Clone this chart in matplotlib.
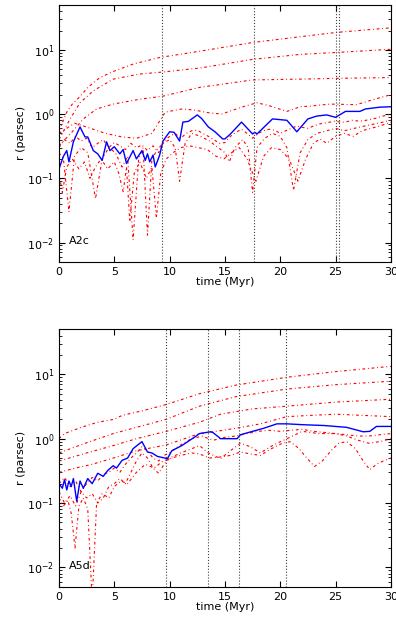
import numpy as np
import matplotlib
matplotlib.use('Agg')
import matplotlib.pyplot as plt

# ---- panel A2c ----
blue_t_a = [0, 0.4, 0.7, 0.9, 1.3, 1.9, 2.35, 2.6, 3.1, 3.5, 3.9, 4.3, 4.6, 5.0, 5.5,
            5.8, 6.1, 6.7, 7.0, 7.5, 7.8, 8.0, 8.2, 8.5, 8.7, 9.1, 9.4, 10.0, 10.4, 10.9,
            11.2, 11.7, 12.5, 12.9, 13.5, 14.1, 14.8, 15.0, 15.5, 16.5, 17.5, 17.7, 17.9, 19.3, 20.6,
            21.5, 22.5, 23.3, 24.2, 25.0, 25.9, 27.2, 27.7, 29.0, 30]
blue_r_a = [0.14, 0.22, 0.27, 0.18, 0.37, 0.63, 0.44, 0.44, 0.27, 0.24, 0.19, 0.37, 0.27, 0.31, 0.24,
            0.28, 0.17, 0.27, 0.2, 0.27, 0.19, 0.24, 0.18, 0.23, 0.15, 0.23, 0.38, 0.53, 0.52, 0.38,
            0.75, 0.77, 0.97, 0.85, 0.63, 0.53, 0.41, 0.41, 0.49, 0.75, 0.49, 0.52, 0.49, 0.84, 0.8,
            0.53, 0.84, 0.93, 0.97, 0.89, 1.1, 1.1, 1.2, 1.28, 1.3]

red_a = [
    ([0, 0.7, 1.2, 1.8, 2.6, 3.7, 4.9, 6.7, 9.1, 12.7, 17.5, 21.8, 25.1, 30],
     [0.55, 1.07, 1.43, 1.8, 2.6, 3.7, 4.6, 6.0, 7.6, 9.5, 13, 16, 18.7, 22]),
    ([0, 1.0, 1.9, 3.1, 4.9, 7.3, 9.3, 12.7, 17.5, 21.8, 25.1, 30],
     [0.4, 0.84, 1.5, 2.3, 3.5, 4.2, 4.5, 5.2, 7.1, 8.5, 9.1, 10.2]),
    ([0, 1.2, 2.2, 3.4, 4.9, 7.3, 9.4, 12.7, 17.5, 21.8, 25.1, 30],
     [0.32, 0.53, 0.84, 1.2, 1.43, 1.7, 1.9, 2.6, 3.4, 3.5, 3.6, 3.7]),
    ([0, 0.7, 1.4, 2.6, 4.2, 5.7, 7.0, 8.4, 9.1, 9.6, 11.1, 12.3, 13.5, 14.7, 16.5, 17.9,
      19.0, 20.6, 21.8, 22.7, 24.5, 26.9, 28.5, 30],
     [0.5, 0.6, 0.72, 0.62, 0.5, 0.44, 0.42, 0.5, 0.78, 1.07, 1.2, 1.15, 1.05, 1.0, 1.28, 1.5,
      1.35, 1.1, 1.3, 1.33, 1.43, 1.4, 1.7, 2.0]),
    ([0, 0.5, 1.0, 1.5, 2.0, 2.5, 3.0, 3.5, 4.0, 4.5, 5.0, 5.5, 6.0, 6.5, 7.0, 7.5, 8.0, 8.5,
      9.0, 9.5, 10.0, 10.5, 11.0, 11.5, 12.0, 12.5, 13.0, 13.5, 14.0, 14.5, 15.0, 15.5, 16.0,
      16.5, 17.0, 17.5, 18.0, 18.5, 19.0, 19.5, 20.0, 20.5, 21.0, 21.5, 22.0, 22.5, 23.0, 23.5,
      24.0, 24.5, 25.0, 25.5, 26.0, 26.5, 27.0, 27.5, 28.0, 28.5, 29.0, 29.5, 30.0],
     [0.3, 0.4, 0.35, 0.45, 0.38, 0.42, 0.3, 0.35, 0.4, 0.3, 0.36, 0.32, 0.28, 0.35, 0.3, 0.33,
      0.27, 0.32, 0.25, 0.38, 0.45, 0.5, 0.42, 0.5, 0.55, 0.56, 0.5, 0.45, 0.4, 0.35, 0.36, 0.45,
      0.52, 0.58, 0.5, 0.42, 0.5, 0.55, 0.58, 0.56, 0.5, 0.55, 0.6, 0.65, 0.62, 0.6, 0.65, 0.7,
      0.72, 0.75, 0.78, 0.74, 0.76, 0.8, 0.78, 0.78, 0.82, 0.85, 0.9, 0.95, 1.0]),
    ([0, 0.4, 0.9, 1.4, 2.0, 2.6, 3.3, 3.9, 4.5, 5.1, 5.7, 6.2, 6.7, 7.2, 7.6, 8.0, 8.4, 8.9,
      9.4, 10.0, 10.5, 10.9, 11.4, 12.0, 12.8, 13.6, 14.4, 15.0, 15.4, 15.9, 16.6, 17.1, 17.5,
      17.9, 18.6, 19.3, 20.0, 20.6, 21.2, 21.8, 22.5, 23.3, 24.2, 25.0, 25.8, 26.7, 27.6, 28.5,
      29.3, 30],
     [0.25, 0.2, 0.03, 0.22, 0.3, 0.25, 0.048, 0.2, 0.3, 0.25, 0.15, 0.22, 0.011, 0.2, 0.3,
      0.013, 0.2, 0.28, 0.35, 0.4, 0.3, 0.09, 0.35, 0.5, 0.45, 0.38, 0.3, 0.25, 0.18, 0.3, 0.4,
      0.3, 0.06, 0.3, 0.42, 0.5, 0.45, 0.3, 0.065, 0.25, 0.4, 0.5, 0.55, 0.6, 0.55, 0.6, 0.65,
      0.7, 0.75, 0.8]),
    ([0, 0.3, 0.7, 1.2, 1.8, 2.3, 2.8, 3.3, 3.8, 4.4, 5.0, 5.4, 5.8, 6.1, 6.4, 6.8, 7.3, 7.9,
      8.4, 8.8, 9.2, 9.7, 10.3, 11.0, 11.8, 12.6, 13.4, 14.2, 14.9, 15.6, 16.3, 17.0, 17.8,
      18.5, 19.2, 20.0, 20.8, 21.6, 22.3, 23.0, 23.6, 24.2, 25.0, 25.8, 26.6, 27.4, 28.2, 29.0, 30],
     [0.12, 0.06, 0.15, 0.2, 0.14, 0.18, 0.1, 0.15, 0.2, 0.14, 0.18, 0.12, 0.062, 0.15, 0.021,
      0.12, 0.18, 0.1, 0.15, 0.024, 0.12, 0.2, 0.25, 0.3, 0.32, 0.3, 0.28, 0.22, 0.2, 0.25, 0.3,
      0.2, 0.09, 0.22, 0.3, 0.28, 0.2, 0.09, 0.2, 0.35, 0.41, 0.35, 0.45, 0.5, 0.45, 0.55, 0.6,
      0.65, 0.75]),
]
vlines_a = [9.3, 17.6, 25.05, 25.35]

# ---- panel A5d ----
blue_t_b = [0, 0.3, 0.5, 0.7, 0.9, 1.1, 1.3, 1.6, 1.9, 2.2, 2.6, 3.0, 3.5, 4.0, 4.4,
            4.9, 5.2, 5.7, 6.2, 6.7, 7.5, 8.0, 8.4, 8.9, 9.8, 10.2, 11.1, 12.3, 12.7, 13.7,
            13.9, 14.4, 14.6, 16.1, 16.4, 17.5, 18.5, 19.7, 20.6, 22.0, 24.0, 26.0, 27.5, 28.1, 28.7, 30]
blue_r_b = [0.2, 0.17, 0.23, 0.16, 0.22, 0.18, 0.24, 0.107, 0.22, 0.17, 0.24, 0.2, 0.29, 0.26, 0.32,
            0.38, 0.35, 0.46, 0.5, 0.7, 0.9, 0.62, 0.6, 0.53, 0.49, 0.65, 0.78, 1.07, 1.2, 1.28,
            1.25, 1.07, 1.0, 1.0, 1.15, 1.3, 1.45, 1.7, 1.7, 1.65, 1.6, 1.5, 1.28, 1.3, 1.55, 1.55]

red_b = [
    ([0, 0.5, 2, 3.5, 5, 5.7, 7.5, 9.7, 12.7, 16, 20.6, 25, 30],
     [1.0, 1.2, 1.5, 1.8, 2.0, 2.3, 2.7, 3.4, 5.0, 6.8, 9.0, 11, 13.3]),
    ([0, 2.2, 4.9, 7, 9.7, 12.7, 16, 20.6, 25, 30],
     [0.6, 0.83, 1.2, 1.5, 2.0, 3.2, 4.5, 5.9, 6.9, 7.8]),
    ([0, 2.5, 4.9, 7, 9.7, 12.7, 14.6, 17.5, 20.6, 25, 30],
     [0.45, 0.6, 0.78, 1.0, 1.3, 1.8, 2.4, 2.9, 3.2, 3.7, 4.1]),
    ([0, 1.5, 3, 4.9, 7, 9.7, 12.7, 14.6, 16.5, 18.2, 20.6, 22.7, 25, 27.5, 30],
     [0.3, 0.35, 0.4, 0.5, 0.65, 0.8, 1.2, 1.33, 1.5, 1.7, 2.2, 2.3, 2.4, 2.3, 2.2]),
    ([0, 0.5, 1, 1.5, 2, 2.5, 3, 3.5, 4, 4.5, 5, 5.5, 6, 6.5, 7, 7.5, 8, 8.5, 9, 9.5, 10,
      10.5, 11, 11.5, 12, 12.5, 13, 13.5, 14, 14.5, 15, 16, 17, 18, 19, 20, 21, 22, 23, 24,
      25, 26, 27, 28, 29, 30],
     [0.2, 0.25, 0.18, 0.22, 0.15, 0.2, 0.25, 0.22, 0.28, 0.3, 0.35, 0.3, 0.4, 0.5, 0.6, 0.75,
      0.65, 0.5, 0.45, 0.55, 0.6, 0.7, 0.8, 0.9, 1.0, 1.05, 1.1, 1.0, 0.95, 1.0, 1.05, 1.1,
      1.2, 1.3, 1.35, 1.3, 1.35, 1.4, 1.3, 1.25, 1.2, 1.15, 1.1, 1.1, 1.15, 1.2]),
    ([0, 0.5, 1, 1.5, 2, 2.5, 3, 3.5, 4, 4.5, 5, 5.5, 6, 6.5, 7, 7.5, 8, 8.5, 9, 9.5, 10,
      11, 12, 12.7, 13.5, 14.6, 15.5, 16.4, 17.3, 18.2, 19.4, 20.6, 22, 23.5, 25, 26, 27, 28,
      29, 30],
     [0.15, 0.1, 0.13, 0.09, 0.15, 0.12, 0.14, 0.1, 0.12, 0.18, 0.2, 0.24, 0.2, 0.3, 0.45, 0.6,
      0.5, 0.35, 0.29, 0.4, 0.5, 0.6, 0.7, 0.78, 0.6, 0.49, 0.65, 0.85, 0.75, 0.6, 0.8, 1.0,
      1.3, 1.2, 1.2, 1.1, 0.95, 0.85, 0.9, 1.0]),
    ([0, 0.4, 0.8, 1.1, 1.45, 1.8, 2.2, 2.6, 3.0, 3.4, 3.9, 4.5, 5.0, 5.6, 6.2, 7.0, 7.8, 8.6,
      9.4, 10.2, 11, 12, 12.7, 13.6, 14.6, 15.5, 16.4, 17.3, 18.2, 19.2, 20.2, 20.9, 21.7, 22.4,
      23.1, 23.8, 24.6, 25.3, 26.0, 26.8, 27.5, 28.1, 28.7, 29.3, 30],
     [0.12, 0.09, 0.11, 0.07, 0.02, 0.09, 0.12, 0.08, 0.003, 0.1, 0.14, 0.12, 0.18, 0.22, 0.2,
      0.3, 0.4, 0.35, 0.45, 0.5, 0.55, 0.6, 0.58, 0.5, 0.52, 0.55, 0.62, 0.58, 0.55, 0.7, 0.85,
      0.9, 0.7, 0.5, 0.37, 0.45, 0.65, 0.85, 0.9, 0.7, 0.45, 0.33, 0.4, 0.45, 0.5]),
]
vlines_b = [9.7, 13.5, 16.3, 20.5]

plt.rcParams['font.family'] = ['DejaVu Sans']
plt.rcParams['font.size'] = 8

fig = plt.figure(figsize=(3.96, 6.19), dpi=100)
ax1 = fig.add_axes([0.149, 0.577, 0.838, 0.415])
ax2 = fig.add_axes([0.149, 0.052, 0.838, 0.416])


def panel(ax, red, blue_t, blue_r, vl, name):
    for t, r in red:
        # short dash-dot, looks dotted at this size
        ax.plot(t, r, color='red', lw=0.8, linestyle=(0, (2.5, 2.5, 0.8, 2.5)))
    ax.plot(blue_t, blue_r, color='blue', lw=1.0)
    for v in vl:
        ax.axvline(v, color='0.25', lw=0.8, linestyle=':')
    ax.set_yscale('log')
    ax.set_xlim(0, 30)
    ax.set_ylim(0.005, 50)
    ax.set_xticks([0, 5, 10, 15, 20, 25, 30])
    ax.tick_params(which='both', direction='in', top=True, right=True)
    ax.tick_params(which='major', length=4)
    ax.tick_params(which='minor', length=2)
    ax.set_xlabel('time (Myr)', labelpad=0)
    ax.set_ylabel('r (parsec)', labelpad=1)
    ax.text(0.03, 0.08, name, transform=ax.transAxes, va='center', fontsize=8)


panel(ax1, red_a, blue_t_a, blue_r_a, vlines_a, 'A2c')
panel(ax2, red_b, blue_t_b, blue_r_b, vlines_b, 'A5d')

fig.savefig('out.png', dpi=100)
